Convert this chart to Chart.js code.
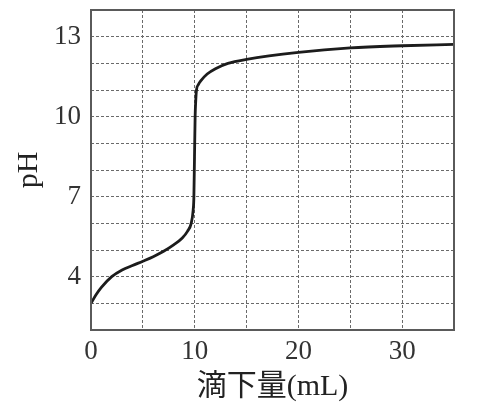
<!DOCTYPE html>
<html>
<head>
<meta charset="utf-8">
<script src="https://cdn.jsdelivr.net/npm/chart.js@4/dist/chart.umd.min.js"></script>
<style>
  html, body { margin: 0; padding: 0; background: #fff; }
  #wrap { width: 490px; height: 407px; }
</style>
</head>
<body>
<div id="wrap"><canvas id="myChart" width="490" height="407"></canvas></div>
<script>
// titration curve
const volume = [0, 0.5, 1, 2, 3, 4, 5, 6, 7, 8, 8.8, 9.3, 9.66, 9.85, 9.92, 9.98, 10.04, 10.1, 10.17, 10.35, 10.6, 11.2, 12, 13.2, 15, 20, 25, 30, 35];
const pH     = [3.0, 3.33, 3.6, 4.0, 4.25, 4.42, 4.58, 4.75, 4.95, 5.2, 5.45, 5.7, 6.0, 6.5, 7.0, 8.5, 10.0, 10.6, 11.0, 11.2, 11.35, 11.6, 11.8, 12.0, 12.15, 12.41, 12.58, 12.66, 12.71];

const xTickLabels = [0, 10, 20, 30];
const yTickLabels = [4, 7, 10, 13];

const xTitle = '滴下量(mL)';
const yTitle = 'pH';

const serif = "'Liberation Serif', 'DejaVu Serif', serif";

const framePlugin = {
    id: 'frame',
    afterDraw(chart) {
        const a = chart.chartArea;
        const ctx = chart.ctx;
        ctx.save();
        ctx.strokeStyle = '#5a5a5a';
        ctx.lineWidth = 2;
        ctx.strokeRect(a.left, a.top, a.right - a.left, a.bottom - a.top);
        ctx.restore();
    }
};

const points = volume.map((v, i) => ({ x: v, y: pH[i] }));

const ctx = document.getElementById('myChart').getContext('2d');
const myChart = new Chart(ctx, {
    type: 'scatter',
    data: {
        datasets: [{
            data: points,
            showLine: true,
            borderColor: '#1c1c1c',
            borderWidth: 2.8,
            pointRadius: 0,
            cubicInterpolationMode: 'monotone',
            fill: false
        }]
    },
    options: {
        responsive: false,
        animation: false,
        layout: { padding: { left: 0, right: 36, top: 10, bottom: 0 } },
        plugins: { legend: { display: false }, tooltip: { enabled: false } },
        scales: {
            x: {
                type: 'linear',
                min: 0,
                max: 35,
                afterFit(scale) {
                    scale.height = 77;
                    scale.paddingLeft = 0;
                    scale.paddingRight = 0;
                },
                ticks: {
                    stepSize: 5,
                    autoSkip: false,
                    maxRotation: 0,
                    padding: 6,
                    color: '#333',
                    font: { family: serif, size: 27 },
                    callback: v => xTickLabels.includes(v) ? v : ''
                },
                grid: {
                    color: '#6a6a6a',
                    lineWidth: 1,
                    drawTicks: false
                },
                border: { display: false, dash: [3, 2] },
                title: {
                    display: true,
                    text: xTitle,
                    color: '#222',
                    padding: { top: 0, bottom: 2 },
                    font: { family: "'Liberation Serif', 'Noto Sans CJK JP', serif", size: 30 }
                }
            },
            y: {
                type: 'linear',
                min: 2,
                max: 14,
                afterFit(scale) {
                    scale.width = 91;
                    scale.paddingTop = 0;
                    scale.paddingBottom = 0;
                },
                ticks: {
                    stepSize: 1,
                    autoSkip: false,
                    padding: 10,
                    color: '#333',
                    font: { family: serif, size: 27 },
                    callback: v => yTickLabels.includes(v) ? v : ''
                },
                grid: {
                    color: '#6a6a6a',
                    lineWidth: 1,
                    drawTicks: false
                },
                border: { display: false, dash: [3, 2] },
                title: {
                    display: true,
                    text: yTitle,
                    color: '#222',
                    padding: { top: 11, bottom: 0 },
                    font: { family: serif, size: 30 }
                }
            }
        }
    },
    plugins: [framePlugin]
});
</script>
</body>
</html>
